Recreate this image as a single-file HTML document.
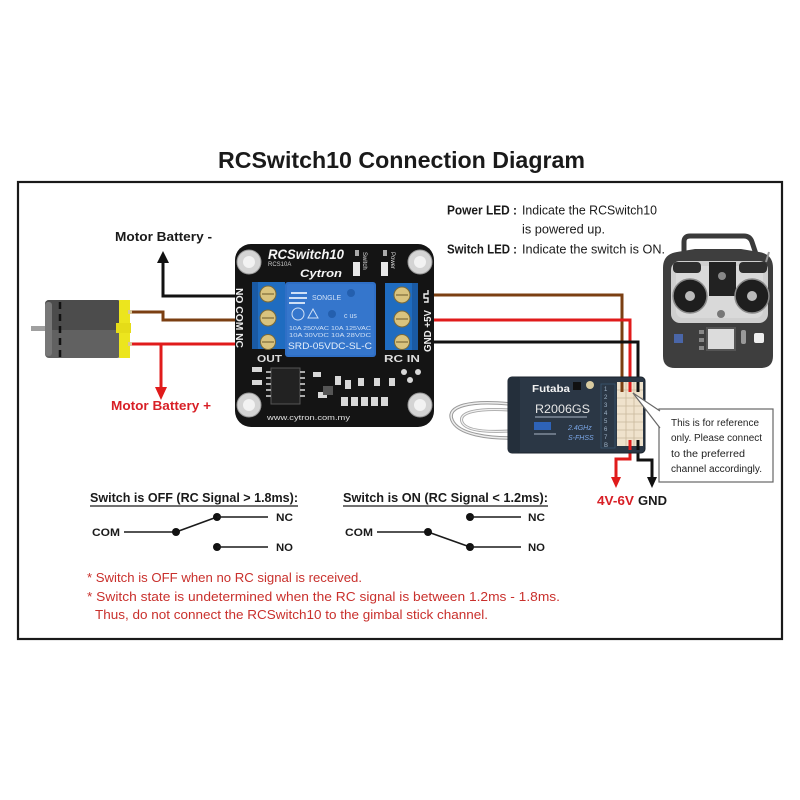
<!DOCTYPE html>
<html><head><meta charset="utf-8">
<style>
html,body{margin:0;padding:0;background:#fff;}
svg{display:block;}
text{font-family:"Liberation Sans",sans-serif;}
</style></head>
<body>
<svg width="800" height="800" viewBox="0 0 800 800" xmlns="http://www.w3.org/2000/svg">
<rect width="800" height="800" fill="#fff"/>

<!-- Title -->
<text x="218" y="168" font-size="23" font-weight="bold" fill="#1a1a1a" textLength="367" lengthAdjust="spacingAndGlyphs">RCSwitch10 Connection Diagram</text>

<!-- Frame -->
<rect x="18" y="182" width="764" height="457" fill="none" stroke="#1a1a1a" stroke-width="2.2"/>

<!-- LED descriptions -->
<g font-size="12.5" fill="#1a1a1a">
<text x="447" y="214.5" font-weight="bold" textLength="70" lengthAdjust="spacingAndGlyphs">Power LED :</text>
<text x="522" y="214.5" textLength="135" lengthAdjust="spacingAndGlyphs">Indicate the RCSwitch10</text>
<text x="522" y="233.5" textLength="83" lengthAdjust="spacingAndGlyphs">is powered up.</text>
<text x="447" y="253.5" font-weight="bold" textLength="70" lengthAdjust="spacingAndGlyphs">Switch LED :</text>
<text x="522" y="253.5" textLength="143" lengthAdjust="spacingAndGlyphs">Indicate the switch is ON.</text>
</g>

<!-- Motor battery labels -->
<text x="115" y="241" font-size="12.5" font-weight="bold" fill="#1a1a1a" textLength="97" lengthAdjust="spacingAndGlyphs">Motor Battery -</text>
<text x="111" y="410" font-size="12.5" font-weight="bold" fill="#d81f26" textLength="100" lengthAdjust="spacingAndGlyphs">Motor Battery +</text>

<!-- Left wires -->
<polyline points="236,296 163,296 163,262" fill="none" stroke="#111" stroke-width="3"/>
<polygon points="157,263 169,263 163,251" fill="#111"/>
<polyline points="130,312 163,312 163,320 236,320" fill="none" stroke="#7b3f12" stroke-width="3"/>
<line x1="130" y1="344" x2="236" y2="344" stroke="#e01b1b" stroke-width="3"/>
<line x1="161" y1="344" x2="161" y2="388" stroke="#e01b1b" stroke-width="3"/>
<polygon points="155,387 167,387 161,400" fill="#e01b1b"/>

<!-- Motor -->
<rect x="31" y="326" width="16" height="5" fill="#a0a0a0"/>
<rect x="45" y="300" width="76" height="58" rx="4" fill="#616161"/>
<rect x="45" y="300" width="76" height="30" rx="4" fill="#4c4c4c"/>
<rect x="45" y="302" width="7" height="54" rx="3" fill="#777"/>
<line x1="60" y1="302" x2="60" y2="357" stroke="#111" stroke-width="2.5" stroke-dasharray="7,5"/>
<rect x="119" y="300" width="11" height="58" fill="#ece51e"/>
<rect x="116" y="323" width="15" height="10" fill="#e5dc18"/>
<rect x="128" y="310" width="4" height="4" fill="#d9c89a"/>
<rect x="128" y="342" width="4" height="4" fill="#d9c89a"/>

<!-- Right wires -->
<polyline points="418,295 622,295 622,386" fill="none" stroke="#7b3f12" stroke-width="3"/>
<polyline points="418,320 630,320 630,386" fill="none" stroke="#e01b1b" stroke-width="3"/>
<polyline points="418,342 638,342 638,386" fill="none" stroke="#111" stroke-width="3"/>
<polyline points="630,444 630,459 616,459 616,478" fill="none" stroke="#e01b1b" stroke-width="3"/>
<polygon points="611,477 621,477 616,488" fill="#e01b1b"/>
<polyline points="638,444 638,460 652,460 652,478" fill="none" stroke="#111" stroke-width="3"/>
<polygon points="647,477 657,477 652,488" fill="#111"/>
<text x="597" y="505" font-size="13" font-weight="bold" fill="#d81f26" textLength="37" lengthAdjust="spacingAndGlyphs">4V-6V</text>
<text x="638" y="505" font-size="13" font-weight="bold" fill="#1a1a1a" textLength="29" lengthAdjust="spacingAndGlyphs">GND</text>

<!-- Board -->
<rect x="235" y="244" width="199" height="183" rx="16" fill="#141414"/>
<g>
<circle cx="249" cy="262" r="12" fill="#d4d4d4" stroke="#999" stroke-width="1"/><circle cx="249" cy="262" r="6" fill="#f2f2f2"/>
<circle cx="420" cy="262" r="12" fill="#d4d4d4" stroke="#999" stroke-width="1"/><circle cx="420" cy="262" r="6" fill="#f2f2f2"/>
<circle cx="249" cy="405" r="12" fill="#d4d4d4" stroke="#999" stroke-width="1"/><circle cx="249" cy="405" r="6" fill="#f2f2f2"/>
<circle cx="420" cy="405" r="12" fill="#d4d4d4" stroke="#999" stroke-width="1"/><circle cx="420" cy="405" r="6" fill="#f2f2f2"/>
</g>
<text x="268" y="259" font-size="14" font-weight="bold" font-style="italic" fill="#f4f4f4" textLength="76" lengthAdjust="spacingAndGlyphs">RCSwitch10</text>
<text x="268" y="266" font-size="6" fill="#ccc">RCS10A</text>
<text x="300" y="277" font-size="11" font-weight="bold" font-style="italic" fill="#f4f4f4" textLength="42" lengthAdjust="spacingAndGlyphs">Cytron</text>
<!-- LEDs -->
<rect x="353" y="262" width="7" height="14" fill="#e8e8e8"/>
<rect x="355" y="250" width="4" height="6" fill="#aaa"/>
<text transform="translate(363,252) rotate(90)" font-size="6" fill="#ddd">Switch</text>
<rect x="381" y="262" width="7" height="14" fill="#e8e8e8"/>
<rect x="383" y="250" width="4" height="6" fill="#aaa"/>
<text transform="translate(391,252) rotate(90)" font-size="6" fill="#ddd">Power</text>

<!-- Left terminal block -->
<rect x="252" y="282" width="33" height="67" fill="#1f6cc0"/>
<rect x="252" y="282" width="6" height="67" fill="#1a5aa4"/>
<g stroke="#7a6a38" stroke-width="1">
<circle cx="268" cy="294" r="8" fill="#d9c37e"/><circle cx="268" cy="318" r="8" fill="#d9c37e"/><circle cx="268" cy="342" r="7.5" fill="#d9c37e"/>
</g>
<g stroke="#6b5a2a" stroke-width="1">
<line x1="262" y1="294" x2="274" y2="294"/><line x1="262" y1="318" x2="274" y2="318"/><line x1="262" y1="342" x2="274" y2="342"/>
</g>
<text transform="translate(236,288) rotate(90)" font-size="10" font-weight="bold" fill="#eee" textLength="60" lengthAdjust="spacingAndGlyphs">NO COM NC</text>

<!-- Relay -->
<rect x="285" y="282" width="91" height="75" rx="3" fill="#2f6fc6"/>
<rect x="287" y="284" width="87" height="71" rx="2" fill="#3576cc"/>
<text x="312" y="300" font-size="7" fill="#cfe0f6">SONGLE</text>
<path d="M291 293 h16 M289 298 h18 M289 303 h16" stroke="#cfe0f6" stroke-width="2"/>
<circle cx="298" cy="314" r="6" fill="none" stroke="#cfe0f6" stroke-width="1"/>
<path d="M308 318 l5 -9 l5 9 z" fill="none" stroke="#cfe0f6" stroke-width="1"/>
<circle cx="332" cy="314" r="4" fill="#245fae"/>
<circle cx="351" cy="293" r="4" fill="#245fae"/>
<text x="344" y="318" font-size="7" fill="#cfe0f6">c  us</text>
<text x="289" y="330" font-size="5.5" fill="#cfe0f6" textLength="82" lengthAdjust="spacingAndGlyphs">10A 250VAC  10A 125VAC</text>
<text x="289" y="337" font-size="5.5" fill="#cfe0f6" textLength="82" lengthAdjust="spacingAndGlyphs">10A  30VDC  10A  28VDC</text>
<text x="288" y="349" font-size="9" fill="#e4eefa" textLength="84" lengthAdjust="spacingAndGlyphs">SRD-05VDC-SL-C</text>

<!-- Right terminal block -->
<rect x="385" y="283" width="33" height="67" fill="#1f6cc0"/>
<rect x="412" y="283" width="6" height="67" fill="#1a5aa4"/>
<g stroke="#7a6a38" stroke-width="1">
<circle cx="402" cy="295" r="8" fill="#d9c37e"/><circle cx="402" cy="319" r="8" fill="#d9c37e"/><circle cx="402" cy="342" r="7.5" fill="#d9c37e"/>
</g>
<g stroke="#6b5a2a" stroke-width="1">
<line x1="396" y1="295" x2="408" y2="295"/><line x1="396" y1="319" x2="408" y2="319"/><line x1="396" y1="342" x2="408" y2="342"/>
</g>
<text transform="translate(431,352) rotate(-90)" font-size="10" font-weight="bold" fill="#eee" textLength="42" lengthAdjust="spacingAndGlyphs">GND +5V</text>
<path d="M424 302 h4 v-4 h-4 v-4 h4 v-4" fill="none" stroke="#eee" stroke-width="1.4"/>

<!-- Bottom labels -->
<text x="257" y="362" font-size="10" font-weight="bold" fill="#ddd" textLength="25" lengthAdjust="spacingAndGlyphs">OUT</text>
<text x="384" y="362" font-size="10" font-weight="bold" fill="#ddd" textLength="36" lengthAdjust="spacingAndGlyphs">RC  IN</text>
<!-- components -->
<rect x="271" y="368" width="29" height="36" fill="#222" stroke="#555" stroke-width="1"/>
<g fill="#aaa">
<rect x="266" y="371" width="5" height="2"/><rect x="266" y="377" width="5" height="2"/><rect x="266" y="383" width="5" height="2"/><rect x="266" y="389" width="5" height="2"/><rect x="266" y="395" width="5" height="2"/>
<rect x="300" y="371" width="5" height="2"/><rect x="300" y="377" width="5" height="2"/><rect x="300" y="383" width="5" height="2"/><rect x="300" y="389" width="5" height="2"/><rect x="300" y="395" width="5" height="2"/>
</g>
<g fill="#d8d8d8">
<rect x="252" y="367" width="10" height="5"/><rect x="252" y="380" width="10" height="5"/>
<rect x="313" y="372" width="8" height="5"/><rect x="318" y="392" width="9" height="6"/>
<rect x="335" y="376" width="6" height="9"/><rect x="345" y="380" width="6" height="9"/>
<rect x="341" y="397" width="7" height="9"/><rect x="351" y="397" width="7" height="9"/><rect x="361" y="397" width="7" height="9"/><rect x="371" y="397" width="7" height="9"/><rect x="381" y="397" width="7" height="9"/>
<rect x="358" y="378" width="6" height="8"/><rect x="374" y="378" width="6" height="8"/><rect x="389" y="378" width="6" height="8"/>
<circle cx="404" cy="372" r="3"/><circle cx="410" cy="380" r="3"/><circle cx="418" cy="372" r="3"/>
</g>
<rect x="323" y="386" width="10" height="9" fill="#555"/>
<text x="267" y="420" font-size="7" fill="#e0e0e0" textLength="83" lengthAdjust="spacingAndGlyphs">www.cytron.com.my</text>

<!-- Receiver antenna -->
<path d="M510 404 C470 400 446 406 452 420 C458 435 490 438 510 438" fill="none" stroke="#9a9a9a" stroke-width="3.5"/>
<path d="M510 404 C470 400 446 406 452 420 C458 435 490 438 510 438" fill="none" stroke="#eee" stroke-width="1.5"/>
<path d="M510 410 C478 408 458 412 462 422 C466 432 492 432 510 431" fill="none" stroke="#a8a8a8" stroke-width="3"/>
<path d="M510 410 C478 408 458 412 462 422 C466 432 492 432 510 431" fill="none" stroke="#f2f2f2" stroke-width="1.2"/>

<!-- Receiver -->
<rect x="508" y="377" width="137" height="76" rx="4" fill="#2b3745" stroke="#1b232c" stroke-width="1"/>
<rect x="508" y="377" width="12" height="76" rx="3" fill="#242f3b"/>
<text x="532" y="392" font-size="10" font-weight="bold" fill="#f2f2f2" textLength="38" lengthAdjust="spacingAndGlyphs">Futaba</text>
<rect x="573" y="382" width="8" height="8" fill="#111"/>
<circle cx="590" cy="385" r="4" fill="#d9cba0"/>
<text x="535" y="413" font-size="12" fill="#e6e6e6" textLength="55" lengthAdjust="spacingAndGlyphs">R2006GS</text>
<rect x="535" y="416" width="52" height="2" fill="#6a7685"/>
<rect x="534" y="422" width="17" height="8" fill="#2e63b8"/>
<rect x="534" y="433" width="22" height="2" fill="#6a7685"/>
<text x="568" y="430" font-size="7" font-style="italic" fill="#7aa6e6">2.4GHz</text>
<text x="568" y="440" font-size="7" font-style="italic" fill="#7aa6e6">S-FHSS</text>
<g font-size="6" fill="#9fb4c8">
<text x="604" y="391">1</text><text x="604" y="399">2</text><text x="604" y="407">3</text><text x="604" y="415">4</text><text x="604" y="423">5</text><text x="604" y="431">6</text><text x="604" y="439">7</text><text x="604" y="447">B</text>
</g>
<rect x="601" y="384" width="14" height="64" fill="none" stroke="#3a5670" stroke-width="0.8"/>
<rect x="617" y="382" width="26" height="64" fill="#efe2cc"/>
<g stroke="#c9b89c" stroke-width="0.8">
<line x1="617" y1="390" x2="643" y2="390"/><line x1="617" y1="398" x2="643" y2="398"/><line x1="617" y1="406" x2="643" y2="406"/><line x1="617" y1="414" x2="643" y2="414"/><line x1="617" y1="422" x2="643" y2="422"/><line x1="617" y1="430" x2="643" y2="430"/><line x1="617" y1="438" x2="643" y2="438"/>
<line x1="626" y1="382" x2="626" y2="446"/><line x1="634" y1="382" x2="634" y2="446"/>
</g>
<line x1="622" y1="382" x2="622" y2="392" stroke="#7b3f12" stroke-width="3"/>
<line x1="630" y1="382" x2="630" y2="392" stroke="#e01b1b" stroke-width="3"/>
<line x1="638" y1="382" x2="638" y2="392" stroke="#111" stroke-width="3"/>
<line x1="630" y1="440" x2="630" y2="450" stroke="#e01b1b" stroke-width="3"/>
<line x1="638" y1="440" x2="638" y2="450" stroke="#111" stroke-width="3"/>

<!-- Callout -->
<rect x="659" y="409" width="114" height="73" fill="#fff" stroke="#666" stroke-width="1.2"/>
<polygon points="633,393 660,411 660,428" fill="#fff"/>
<line x1="633" y1="393" x2="660" y2="411" stroke="#666" stroke-width="1.2"/>
<line x1="633" y1="393" x2="660" y2="428" stroke="#666" stroke-width="1.2"/>
<g font-size="10" fill="#222">
<text x="671" y="426" textLength="88" lengthAdjust="spacingAndGlyphs">This is for reference</text>
<text x="671" y="441" textLength="91" lengthAdjust="spacingAndGlyphs">only. Please connect</text>
<text x="671" y="457" textLength="74" lengthAdjust="spacingAndGlyphs">to the preferred</text>
<text x="671" y="472" textLength="91" lengthAdjust="spacingAndGlyphs">channel accordingly.</text>
</g>

<!-- Transmitter -->
<path d="M684 254 v-12 q0 -6 6 -6 h54 q6 0 8 6 l4 12" fill="none" stroke="#3a3a3a" stroke-width="5"/>
<path d="M663 268 q0 -14 14 -16 l18 -3 h46 l18 3 q14 2 14 16 v88 q0 12 -12 12 h-86 q-12 0 -12 -12 z" fill="#3e3e3e"/>
<rect x="671" y="261" width="97" height="62" rx="9" fill="#cfcfcf"/>
<rect x="676" y="266" width="87" height="52" rx="7" fill="#d9d9d9"/>
<rect x="673" y="262" width="28" height="11" rx="4" fill="#2e2e2e"/>
<rect x="739" y="262" width="28" height="11" rx="4" fill="#2e2e2e"/>
<rect x="709" y="262" width="27" height="34" fill="#222"/>
<circle cx="722" cy="276" r="4" fill="#888"/>
<circle cx="690" cy="296" r="17" fill="#1e1e1e" stroke="#8a8a8a" stroke-width="1.5"/>
<circle cx="690" cy="296" r="5" fill="#bbb"/>
<circle cx="752" cy="296" r="17" fill="#1e1e1e" stroke="#8a8a8a" stroke-width="1.5"/>
<circle cx="752" cy="296" r="5" fill="#bbb"/>
<circle cx="721" cy="314" r="4" fill="#777"/>
<rect x="706" y="327" width="30" height="24" fill="#555"/>
<rect x="708" y="329" width="26" height="20" fill="#dcdcdc"/>
<rect x="699" y="330" width="5" height="4" fill="#888"/><rect x="699" y="338" width="5" height="4" fill="#888"/><rect x="699" y="346" width="5" height="4" fill="#888"/>
<rect x="741" y="330" width="5" height="14" rx="2" fill="#999"/>
<rect x="754" y="333" width="10" height="10" rx="2" fill="#eee"/>
<rect x="674" y="334" width="9" height="9" fill="#4a66a8"/>
<line x1="766" y1="262" x2="769" y2="252" stroke="#999" stroke-width="2"/>

<!-- Switch OFF diagram -->
<text x="90" y="502" font-size="13" font-weight="bold" fill="#1a1a1a" textLength="208" lengthAdjust="spacingAndGlyphs">Switch is OFF (RC Signal &gt; 1.8ms):</text>
<line x1="90" y1="506" x2="298" y2="506" stroke="#1a1a1a" stroke-width="1.2"/>
<text x="92" y="536" font-size="11" font-weight="bold" fill="#1a1a1a" textLength="28" lengthAdjust="spacingAndGlyphs">COM</text>
<line x1="124" y1="532" x2="176" y2="532" stroke="#1a1a1a" stroke-width="1.6"/>
<line x1="176" y1="532" x2="217" y2="517" stroke="#1a1a1a" stroke-width="1.6"/>
<circle cx="176" cy="532" r="4" fill="#111"/>
<circle cx="217" cy="517" r="4" fill="#111"/>
<line x1="217" y1="517" x2="268" y2="517" stroke="#1a1a1a" stroke-width="1.6"/>
<circle cx="217" cy="547" r="4" fill="#111"/>
<line x1="217" y1="547" x2="268" y2="547" stroke="#1a1a1a" stroke-width="1.6"/>
<text x="276" y="521" font-size="11" font-weight="bold" fill="#1a1a1a" textLength="17" lengthAdjust="spacingAndGlyphs">NC</text>
<text x="276" y="551" font-size="11" font-weight="bold" fill="#1a1a1a" textLength="17" lengthAdjust="spacingAndGlyphs">NO</text>

<!-- Switch ON diagram -->
<text x="343" y="502" font-size="13" font-weight="bold" fill="#1a1a1a" textLength="205" lengthAdjust="spacingAndGlyphs">Switch is ON (RC Signal &lt; 1.2ms):</text>
<line x1="343" y1="506" x2="548" y2="506" stroke="#1a1a1a" stroke-width="1.2"/>
<text x="345" y="536" font-size="11" font-weight="bold" fill="#1a1a1a" textLength="28" lengthAdjust="spacingAndGlyphs">COM</text>
<line x1="377" y1="532" x2="428" y2="532" stroke="#1a1a1a" stroke-width="1.6"/>
<line x1="428" y1="532" x2="470" y2="547" stroke="#1a1a1a" stroke-width="1.6"/>
<circle cx="428" cy="532" r="4" fill="#111"/>
<circle cx="470" cy="517" r="4" fill="#111"/>
<line x1="470" y1="517" x2="521" y2="517" stroke="#1a1a1a" stroke-width="1.6"/>
<circle cx="470" cy="547" r="4" fill="#111"/>
<line x1="470" y1="547" x2="521" y2="547" stroke="#1a1a1a" stroke-width="1.6"/>
<text x="528" y="521" font-size="11" font-weight="bold" fill="#1a1a1a" textLength="17" lengthAdjust="spacingAndGlyphs">NC</text>
<text x="528" y="551" font-size="11" font-weight="bold" fill="#1a1a1a" textLength="17" lengthAdjust="spacingAndGlyphs">NO</text>

<!-- Notes -->
<g font-size="13" fill="#c9302c">
<text x="87" y="582" textLength="275" lengthAdjust="spacingAndGlyphs">* Switch is OFF when no RC signal is received.</text>
<text x="87" y="601" textLength="473" lengthAdjust="spacingAndGlyphs">* Switch state is undetermined when the RC signal is between 1.2ms - 1.8ms.</text>
<text x="95" y="619" textLength="393" lengthAdjust="spacingAndGlyphs">Thus, do not connect the RCSwitch10 to the gimbal stick channel.</text>
</g>
</svg>
</body></html>
